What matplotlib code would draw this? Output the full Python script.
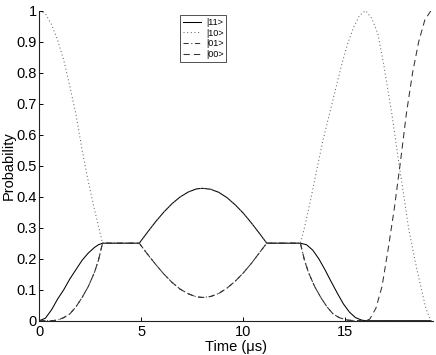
import matplotlib
matplotlib.use("Agg")
import matplotlib.pyplot as plt

plt.rcParams['font.family'] = ['Liberation Sans', 'DejaVu Sans']

# ---- data (time in microseconds, probability) ----
# segment 1: 0 .. 3.1
t_s1 = [0, 0.3, 0.6, 0.9, 1.2, 1.5, 1.8, 2.1, 2.4, 2.7, 2.9, 3.1]
p11_s1 = [0, 0.008, 0.035, 0.07, 0.1, 0.135, 0.165, 0.195, 0.218, 0.236, 0.245, 0.25]
p10_s1 = [1.0, 0.99, 0.955, 0.905, 0.84, 0.755, 0.665, 0.55, 0.45, 0.36, 0.305, 0.25]
p01_s1 = [0, 0.0, 0.0, 0.002, 0.01, 0.022, 0.045, 0.075, 0.11, 0.155, 0.195, 0.25]

# segment 2: 4.9 .. 11.15 (after plateau at 0.25)
t_s2 = [4.9, 5.3, 5.7, 6.1, 6.5, 6.9, 7.3, 7.7, 8.0, 8.4, 8.8, 9.2, 9.6,
        10.0, 10.4, 10.8, 11.15]
p_up_s2 = [0.25, 0.285, 0.319, 0.350, 0.377, 0.399, 0.415, 0.425, 0.427, 0.424,
           0.414, 0.397, 0.374, 0.347, 0.315, 0.281, 0.25]
p_dn_s2 = [0.25, 0.215, 0.182, 0.151, 0.124, 0.102, 0.087, 0.077, 0.075, 0.078,
           0.088, 0.105, 0.127, 0.154, 0.185, 0.220, 0.25]

# segment 4: 12.8 .. 19.2 (after plateau at 0.25)
t11_s4 = [12.8, 13.1, 13.4, 13.7, 14.0, 14.3, 14.6, 14.9, 15.2, 15.5, 15.8, 16.0, 19.2]
p11_s4 = [0.25, 0.245, 0.228, 0.2, 0.165, 0.127, 0.09, 0.055, 0.028, 0.01, 0.002, 0.0, 0.0]
t01_s4 = [12.8, 13.0, 13.2, 13.5, 13.8, 14.1, 14.4, 14.7, 15.1, 15.5, 19.2]
p01_s4 = [0.25, 0.195, 0.155, 0.11, 0.075, 0.045, 0.022, 0.01, 0.002, 0.0, 0.0]
t10_s4 = [12.8, 13.0, 13.3, 13.6, 13.9, 14.2, 14.5, 14.8, 15.1, 15.4, 15.7, 16.0,
          16.3, 16.6, 16.9, 17.3, 17.6, 17.9, 18.1, 18.4, 18.7, 18.95, 19.2]
p10_s4 = [0.25, 0.3, 0.39, 0.486, 0.58, 0.66, 0.74, 0.82, 0.89, 0.945, 0.985, 1.0,
          0.975, 0.925, 0.82, 0.66, 0.52, 0.39, 0.3, 0.2, 0.11, 0.04, 0.0]
t00_s4 = [12.8, 13.0, 13.2, 13.5, 13.8, 14.1, 14.4, 14.7, 15.1, 15.5, 16.0,
          16.2, 16.5, 16.8, 17.1, 17.4, 17.7, 18.0, 18.3, 18.6, 18.9, 19.2]
p00_s4 = [0.25, 0.195, 0.155, 0.11, 0.075, 0.045, 0.022, 0.01, 0.002, 0.0, 0.0,
          0.005, 0.04, 0.11, 0.23, 0.36, 0.51, 0.67, 0.8, 0.9, 0.97, 1.0]

labels = ['|11>', '|10>', '|01>', '|00>']

# ---- assemble full series ----
t11 = t_s1 + t_s2 + t11_s4
p11 = p11_s1 + p_up_s2 + p11_s4
t10 = t_s1 + t_s2 + t10_s4
p10 = p10_s1 + p_up_s2 + p10_s4
t01 = t_s1 + t_s2 + t01_s4
p01 = p01_s1 + p_dn_s2 + p01_s4
t00 = t_s1 + t_s2 + t00_s4
p00 = p01_s1 + p_dn_s2 + p00_s4

fig = plt.figure(figsize=(4.36, 3.55), dpi=100)
ax = fig.add_axes([0.0901, 0.0966, 0.903, 0.8734])

lw = 0.75
ax.plot(t11, p11, color='black', lw=lw, ls='-', label=labels[0])
ax.plot(t10, p10, color='#666666', lw=lw, ls=(0, (1, 2.5)), label=labels[1])
ax.plot(t01, p01, color='#333333', lw=lw, ls=(0, (5, 2.5, 1, 2.5)), label=labels[2])
ax.plot(t00, p00, color='#333333', lw=lw, ls=(0, (6, 4)), label=labels[3])

ax.set_xlim(0, 19.3)
ax.set_ylim(0, 1)
ax.set_xticks([0, 5, 10, 15])
ax.set_xticklabels(['0', '5', '10', '15'])
ax.set_yticks([0, 0.1, 0.2, 0.3, 0.4, 0.5, 0.6, 0.7, 0.8, 0.9, 1])
ax.set_yticklabels(['0', '0.1', '0.2', '0.3', '0.4', '0.5', '0.6', '0.7', '0.8', '0.9', '1'])
ax.tick_params(direction='in', length=3, width=0.7, labelsize=10.5, pad=2)
ax.tick_params(axis='x', pad=3)
for s in ['top', 'right']:
    ax.spines[s].set_visible(False)
for s in ['left', 'bottom']:
    ax.spines[s].set_linewidth(0.8)
    ax.spines[s].set_color('#222222')

ax.set_xlabel('Time (μs)', fontsize=10.5, labelpad=1)
ax.set_ylabel('Probability', fontsize=10.5, labelpad=0)

leg = ax.legend(loc='upper left', bbox_to_anchor=(0.357, 0.986), fontsize=6.5,
                frameon=True, fancybox=False, edgecolor='black',
                handlelength=2.0, handletextpad=0.6, borderpad=0.3,
                labelspacing=0.2, borderaxespad=0)
leg.get_frame().set_linewidth(0.6)

fig.savefig('out.png', dpi=100)
